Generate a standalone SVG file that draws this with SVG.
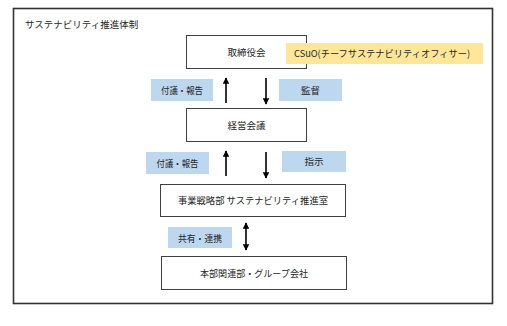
<svg xmlns="http://www.w3.org/2000/svg" width="507" height="326" viewBox="0 0 507 326">
<defs>
<marker id="ah" viewBox="0 0 10 10" refX="9" refY="5" markerWidth="4" markerHeight="4" orient="auto-start-reverse" markerUnits="strokeWidth">
<path d="M0,0 L10,5 L0,10 z" fill="#000"/>
</marker>
<style>
text{font-family:"Noto Sans CJK JP","Noto Sans",sans-serif;font-size:9.5px;fill:#262626}
.box{fill:#fff;stroke:#404040;stroke-width:1}
.lbl{fill:#BDD7EE}
.yl{fill:#FFE699}
.arr{stroke:#000;stroke-width:1.6;fill:none}
</style>
</defs>
<rect width="507" height="326" fill="#fff"/>
<rect x="13.5" y="8.5" width="479" height="295" fill="#fff" stroke="#333" stroke-width="1.6"/>
<text x="25" y="27.5" font-size="9">サステナビリティ推進体制</text>

<g id="node-torishimariyakukai">
<rect class="box" x="186.5" y="35.5" width="120" height="33"/>
<text x="246.5" y="55.5" text-anchor="middle">取締役会</text>
</g>
<g id="label-csuo">
<rect class="yl" x="286" y="43" width="197" height="21"/>
<text x="294" y="57" textLength="176" lengthAdjust="spacingAndGlyphs">CSuO(チーフサステナビリティオフィサー)</text>
</g>
<g id="node-keiei">
<rect class="box" x="186.5" y="108.5" width="120" height="33"/>
<text x="246.5" y="128.5" text-anchor="middle">経営会議</text>
</g>
<g id="node-jigyo">
<rect class="box" x="160.5" y="184.5" width="185" height="32"/>
<text x="253" y="204" text-anchor="middle" textLength="150" lengthAdjust="spacingAndGlyphs">事業戦略部 サステナビリティ推進室</text>
</g>
<g id="node-honbu">
<rect class="box" x="161.5" y="256.5" width="185" height="33"/>
<text x="254" y="276.5" text-anchor="middle" textLength="108" lengthAdjust="spacingAndGlyphs">本部関連部・グループ会社</text>
</g>

<g id="label-fugi1">
<rect class="lbl" x="151" y="79" width="62" height="22"/>
<text x="182" y="93.5" text-anchor="middle" textLength="42" lengthAdjust="spacingAndGlyphs">付議・報告</text>
</g>
<g id="label-kantoku">
<rect class="lbl" x="279" y="79" width="63" height="22"/>
<text x="310.5" y="93.5" text-anchor="middle">監督</text>
</g>
<g id="label-fugi2">
<rect class="lbl" x="146" y="152" width="63" height="22"/>
<text x="177.5" y="166.5" text-anchor="middle" textLength="42" lengthAdjust="spacingAndGlyphs">付議・報告</text>
</g>
<g id="label-shiji">
<rect class="lbl" x="282" y="151" width="64" height="21"/>
<text x="314" y="165" text-anchor="middle">指示</text>
</g>
<g id="label-kyoyu">
<rect class="lbl" x="168" y="227" width="64" height="21"/>
<text x="200" y="241.5" text-anchor="middle" font-size="10" textLength="44" lengthAdjust="spacingAndGlyphs">共有・連携</text>
</g>

<g id="connectors">
<line class="arr" x1="226" y1="103" x2="226" y2="78" marker-end="url(#ah)"/>
<line class="arr" x1="266" y1="78" x2="266" y2="104" marker-end="url(#ah)"/>
<line class="arr" x1="226" y1="176" x2="226" y2="151" marker-end="url(#ah)"/>
<line class="arr" x1="266" y1="152" x2="266" y2="178" marker-end="url(#ah)"/>
<line class="arr" x1="246" y1="223" x2="246" y2="250" marker-start="url(#ah)" marker-end="url(#ah)"/>
</g>
</svg>
